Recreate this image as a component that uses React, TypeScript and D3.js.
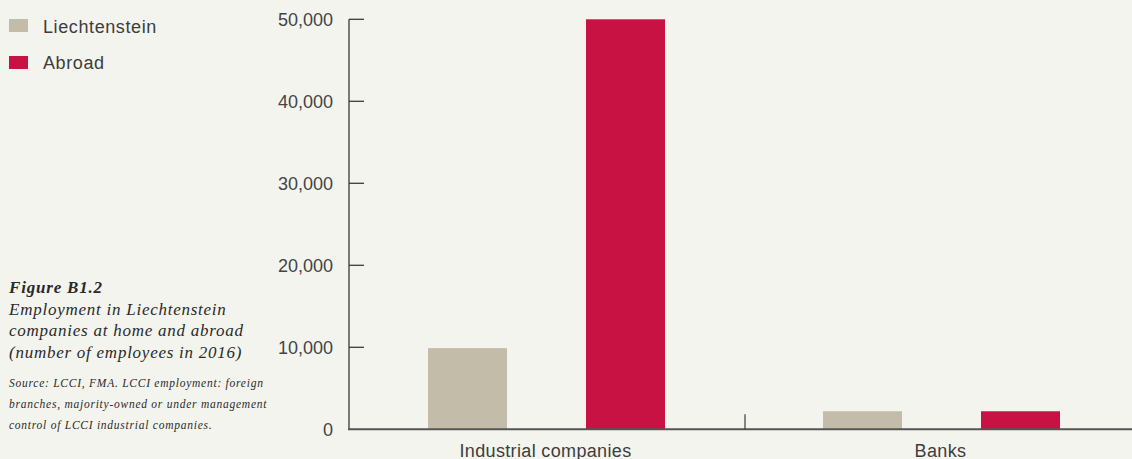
import React from "react";
import * as d3 from "d3";

const categories = ["Industrial companies", "Banks"];
const seriesNames = ["Liechtenstein", "Abroad"];
const liechtensteinValues = [9900, 2200];
const abroadValues = [50000, 2200];
const yTicks = [0, 10000, 20000, 30000, 40000, 50000];
const seriesColors = ["#c3bca9", "#c81244"];
const titleLines = [
  "Employment in Liechtenstein",
  "companies at home and abroad",
  "(number of employees in 2016)",
];
const sourceLines = [
  "Source: LCCI, FMA. LCCI employment: foreign",
  "branches, majority-owned or under management",
  "control of LCCI industrial companies.",
];

const W = 1132;
const H = 459;

export default function App() {
  const x0 = d3.scaleBand<string>().domain(categories).range([349, 1139]).padding(0);
  const x1 = d3
    .scaleBand<string>()
    .domain(seriesNames)
    .range([0, x0.bandwidth()])
    .paddingInner(0.5)
    .paddingOuter(0.5);
  const y = d3.scaleLinear().domain([0, 50000]).range([429.3, 19.3]);
  const fmt = d3.format(",");
  const values = [liechtensteinValues, abroadValues];
  const sans = "'Liberation Sans', Arial, sans-serif";
  const serif = "'Liberation Serif', 'DejaVu Serif', serif";

  return (
    <svg
      width={W}
      height={H}
      style={{ position: "absolute", left: 0, top: 0, display: "block", background: "#f4f4ef" }}
    >
      <rect x={0} y={0} width={W} height={H} fill="#f4f4ef" />
      {/* legend */}
      {seriesNames.map((s, i) => (
        <g key={s}>
          <rect x={9} y={19 + i * 37} width={19} height={13} fill={seriesColors[i]} />
          <text x={43} y={33 + i * 36} fontFamily={sans} fontSize={18} letterSpacing={0.6} fill="#3d3d3d">
            {s}
          </text>
        </g>
      ))}
      {/* title */}
      <text x={9} y={293} fontFamily={serif} fontStyle="italic" fontWeight="bold" fontSize={17} letterSpacing={0.8} fill="#2a2a2a">
        Figure B1.2
      </text>
      {titleLines.map((t, i) => (
        <text key={t} x={9} y={315 + i * 21.3} fontFamily={serif} fontStyle="italic" fontSize={17} fill="#2a2a2a" letterSpacing={0.75}>
          {t}
        </text>
      ))}
      {sourceLines.map((t, i) => (
        <text key={t} x={9} y={387 + i * 21} fontFamily={serif} fontStyle="italic" fontSize={11.5} fill="#2a2a2a" letterSpacing={0.75}>
          {t}
        </text>
      ))}
      {/* bars */}
      {categories.map((c, ci) =>
        seriesNames.map((s, si) => {
          const v = values[si][ci];
          return (
            <rect
              key={c + s}
              x={(x0(c) as number) + (x1(s) as number)}
              y={y(v)}
              width={x1.bandwidth()}
              height={y(0) - y(v)}
              fill={seriesColors[si]}
            />
          );
        })
      )}
      {/* y axis */}
      <line x1={349} x2={349} y1={y(50000)} y2={y(0)} stroke="#7a7a7a" strokeWidth={2} />
      {yTicks.map((t) => (
        <g key={t}>
          {t > 0 && <line x1={349} x2={364} y1={y(t)} y2={y(t)} stroke="#3a3a3a" strokeWidth={1.3} />}
          <text x={333} y={y(t) + 6.5} textAnchor="end" fontFamily={sans} fontSize={18} fill="#444">
            {fmt(t)}
          </text>
        </g>
      ))}
      {/* x axis */}
      <line x1={348} x2={W} y1={y(0)} y2={y(0)} stroke="#555" strokeWidth={2} />
      {categories.slice(1).map((c) => (
        <line key={c} x1={(x0(c) as number) + 1} x2={(x0(c) as number) + 1} y1={y(0) - 15} y2={y(0)} stroke="#3a3a3a" strokeWidth={1.2} />
      ))}
      {categories.map((c) => (
        <text
          key={c}
          x={(x0(c) as number) + x0.bandwidth() / 2 - 1}
          y={457}
          textAnchor="middle"
          fontFamily={sans}
          fontSize={18}
          letterSpacing={0.35}
          fill="#3d3d3d"
        >
          {c}
        </text>
      ))}
    </svg>
  );
}
